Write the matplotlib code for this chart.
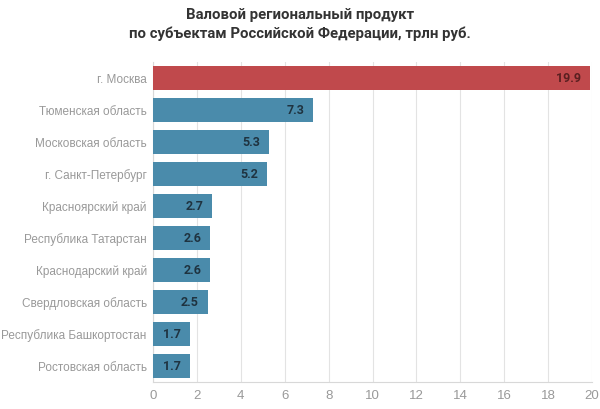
import matplotlib
matplotlib.use('Agg')
import matplotlib.pyplot as plt

# regions and GRP values, trln rub
regions = ['г. Москва', 'Тюменская область', 'Московская область',
           'г. Санкт-Петербург', 'Красноярский край', 'Республика Татарстан',
           'Краснодарский край', 'Свердловская область',
           'Республика Башкортостан', 'Ростовская область']
values = [19.9, 7.3, 5.3, 5.2, 2.7, 2.6, 2.6, 2.5, 1.7, 1.7]
xticks = [0, 2, 4, 6, 8, 10, 12, 14, 16, 18, 20]

plt.rcParams['font.family'] = ['Liberation Sans', 'DejaVu Sans']

fig = plt.figure(figsize=(6, 4.09), dpi=100)
ax = fig.add_axes([0.255, 0.066, 0.7317, 0.782])

colors = ['#c0494c'] + ['#4a8bab'] * (len(values) - 1)
ypos = list(range(len(values)))
ax.barh(ypos, values, height=0.75, color=colors, zorder=3)

for y, v, c in zip(ypos, values, colors):
    tc = '#5a1f20' if c == '#c0494c' else '#1f3340'
    ax.annotate(f'{v:.1f}', xy=(v, y), xytext=(-9, 0), textcoords='offset pixels',
                ha='right', va='center', fontsize=9, fontweight='bold', color=tc,
                family=['Roboto', 'DejaVu Sans'], zorder=4)

ax.set_xlim(0, 20)
ax.set_ylim(len(values) - 0.5, -0.5)
ax.set_xticks(xticks)
ax.set_yticks(ypos)
ax.set_yticklabels(regions)
ax.grid(axis='x', color='#e3e3e3', linewidth=0.8, zorder=0)
ax.tick_params(axis='both', length=0, colors='#999999', labelsize=8.5)
ax.tick_params(axis='x', labelsize=9.5)
ax.tick_params(axis='y', pad=4.5)
ax.tick_params(axis='x', pad=6)
for s in ['top', 'right']:
    ax.spines[s].set_visible(False)
for s in ['left', 'bottom']:
    ax.spines[s].set_color('#d8d8d8')
    ax.spines[s].set_linewidth(0.8)

fig.text(0.5, 0.94, 'Валовой региональный продукт\nпо субъектам Российской Федерации, трлн руб.',
         ha='center', va='center', fontsize=10.7, fontweight='bold', color='#333333',
         family=['Roboto', 'DejaVu Sans'], linespacing=1.35)

fig.savefig('out.png', dpi=100)
